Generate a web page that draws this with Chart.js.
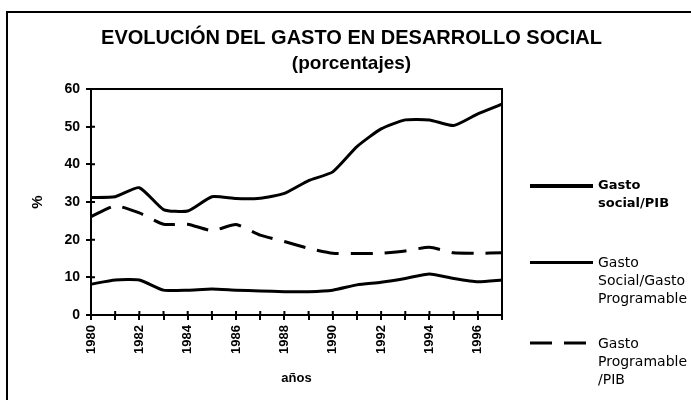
<!DOCTYPE html>
<html>
<head>
<meta charset="utf-8">
<script src="https://cdn.jsdelivr.net/npm/chart.js@4.4.1/dist/chart.umd.min.js"></script>
<style>
  html, body { margin: 0; padding: 0; background: #fff; }
  #wrap { position: relative; width: 691px; height: 400px; overflow: hidden; }
  #frame { position: absolute; left: 6px; top: 11px; width: 720px; height: 420px;
           border-left: 2px solid #000; border-top: 2px solid #000; }
  #chart { position: absolute; left: 0; top: 0; }
  .leg { position: absolute; left: 530px; font-family: "DejaVu Sans", sans-serif;
         font-size: 14px; line-height: 18px; color: #000; }
  .leg .sample { position: absolute; left: 0; top: 8px; width: 63px; height: 0; }
  .leg .txt { position: absolute; left: 68px; top: 0; white-space: nowrap; }
</style>
</head>
<body>
<div id="wrap">
  <div id="frame"></div>
  <canvas id="chart" width="691" height="400"></canvas>
  <div id="legend"></div>
</div>
<script>
// years on the x axis
const years = ['1980', '1981', '1982', '1983', '1984', '1985', '1986', '1987', '1988',
               '1989', '1990', '1991', '1992', '1993', '1994', '1995', '1996', '1997'];

// series values (%)
const socialPib = [8.2, 9.3, 9.3, 6.6, 6.6, 6.9, 6.6, 6.4, 6.2, 6.2, 6.6, 8.0, 8.7, 9.7, 10.9, 9.7, 8.8, 9.3];
const socialProgramable = [31.2, 31.4, 33.8, 28.0, 27.6, 31.4, 30.9, 31.0, 32.3, 35.7, 38.0, 44.7, 49.4, 51.8, 51.8, 50.3, 53.4, 56.0];
const programablePib = [26.1, 29.0, 27.1, 24.1, 24.1, 22.4, 24.0, 21.2, 19.5, 17.7, 16.4, 16.3, 16.4, 17.0, 18.0, 16.5, 16.4, 16.5];

const seriesNames = ['Gasto social/PIB', 'Gasto Social/Gasto Programable', 'Gasto Programable /PIB'];
const legendLines = [['Gasto', 'social/PIB'], ['Gasto', 'Social/Gasto', 'Programable'], ['Gasto', 'Programable', '/PIB']];
const yTicks = [0, 10, 20, 30, 40, 50, 60];

// plot box and the inner half of the tick marks
const boxPlugin = {
    id: 'box',
    beforeDatasetsDraw(chart) {
        const { ctx, chartArea: a, scales } = chart;
        ctx.save();
        ctx.strokeStyle = '#000';
        ctx.lineWidth = 2;
        ctx.strokeRect(a.left, a.top, a.right - a.left, a.bottom - a.top);
        ctx.beginPath();
        scales.x.ticks.forEach((t, i) => {
            const px = scales.x.getPixelForTick(i);
            if (px < a.right - 2) {
                ctx.moveTo(px, a.bottom);
                ctx.lineTo(px, a.bottom - 4);
            }
        });
        scales.y.ticks.forEach((t, i) => {
            const py = scales.y.getPixelForTick(i);
            ctx.moveTo(a.left, py);
            ctx.lineTo(a.left + 4, py);
        });
        ctx.stroke();
        ctx.restore();
    }
};

const lineStyle = {
    borderColor: '#000',
    backgroundColor: '#000',
    borderWidth: 3,
    pointRadius: 0,
    tension: 0.18,
    fill: false
};

const ctx = document.getElementById('chart').getContext('2d');
const chart = new Chart(ctx, {
    type: 'line',
    data: {
        labels: years,
        datasets: [
            { ...lineStyle, label: seriesNames[0], data: socialPib },
            { ...lineStyle, label: seriesNames[1], data: socialProgramable },
            { ...lineStyle, label: seriesNames[2], data: programablePib, borderDash: [22, 12] }
        ]
    },
    options: {
        responsive: false,
        animation: false,
        devicePixelRatio: 1,
        layout: { padding: { left: 12, right: 0, top: 0, bottom: 0 } },
        plugins: {
            legend: { display: false },
            tooltip: { enabled: false },
            title: {
                display: true,
                text: 'EVOLUCIÓN DEL GASTO EN DESARROLLO SOCIAL',
                color: '#000',
                font: { family: '"Liberation Sans", Arial, sans-serif', size: 20, weight: 'bold', lineHeight: 1.2 },
                padding: { top: 26, bottom: 0 }
            },
            subtitle: {
                display: true,
                text: '(porcentajes)',
                color: '#000',
                font: { family: '"Liberation Sans", Arial, sans-serif', size: 19, weight: 'bold', lineHeight: 1.2 },
                padding: { top: 2.6, bottom: 13.6 }
            }
        },
        scales: {
            x: {
                type: 'category',
                offset: false,
                afterFit: s => { s.height = 85; },
                grid: { display: true, drawOnChartArea: false, drawTicks: true, tickLength: 5, color: '#000', lineWidth: 2 },
                border: { display: true, color: '#000', width: 2 },
                ticks: {
                    color: '#000',
                    autoSkip: false,
                    minRotation: 90,
                    maxRotation: 90,
                    padding: 5,
                    font: { family: '"Liberation Sans", Arial, sans-serif', size: 13, weight: 'bold' },
                    callback: (v, i) => (i % 2 === 0 ? years[i] : '')
                },
                title: {
                    display: true,
                    text: 'años',
                    color: '#000',
                    font: { family: '"Liberation Sans", Arial, sans-serif', size: 13, weight: 'bold', lineHeight: 1.2 },
                    padding: { top: 0, bottom: 14 }
                }
            },
            y: {
                min: 0,
                max: 60,
                afterFit: s => { s.width = 79; },
                afterBuildTicks: s => { s.ticks = yTicks.map(v => ({ value: v })); },
                grid: { display: true, drawOnChartArea: false, drawTicks: true, tickLength: 5, color: '#000', lineWidth: 2 },
                border: { display: true, color: '#000', width: 2 },
                ticks: {
                    color: '#000',
                    padding: 6,
                    font: { family: '"Liberation Sans", Arial, sans-serif', size: 14, weight: 'bold' }
                },
                title: {
                    display: true,
                    text: '%',
                    color: '#000',
                    font: { family: '"Liberation Sans", Arial, sans-serif', size: 15, weight: 'bold', lineHeight: 1.2 },
                    padding: { top: 17, bottom: 0 }
                }
            },
            // empty box on the right that leaves room for the legend
            yRight: {
                position: 'right',
                display: true,
                afterFit: s => { s.width = 189; },
                grid: { display: false, drawTicks: false },
                border: { display: false },
                ticks: { display: false }
            }
        }
    },
    plugins: [boxPlugin]
});

// legend drawn as html next to the plot
const legendTops = [176, 253, 334];
const legendSamples = [
    'border-top: 4px solid #000;',
    'border-top: 3px solid #000;',
    'border-top: 3px dashed #000;'
];
const legendEl = document.getElementById('legend');
legendLines.forEach((lines, i) => {
    const div = document.createElement('div');
    div.className = 'leg';
    div.style.top = legendTops[i] + 'px';
    let sample = '<div class="sample" style="' + legendSamples[i] + '"></div>';
    if (i === 2) {
        sample = '<svg class="sample" width="63" height="4" style="top:7px;height:4px;overflow:visible">' +
                 '<line x1="0" y1="2" x2="63" y2="2" stroke="#000" stroke-width="3" stroke-dasharray="22 12"></line></svg>';
    }
    const weight = i === 0 ? 'font-weight:bold;font-size:13px;' : '';
    div.innerHTML = sample + '<div class="txt" style="' + weight + '">' + lines.join('<br>') + '</div>';
    legendEl.appendChild(div);
});
</script>
</body>
</html>
